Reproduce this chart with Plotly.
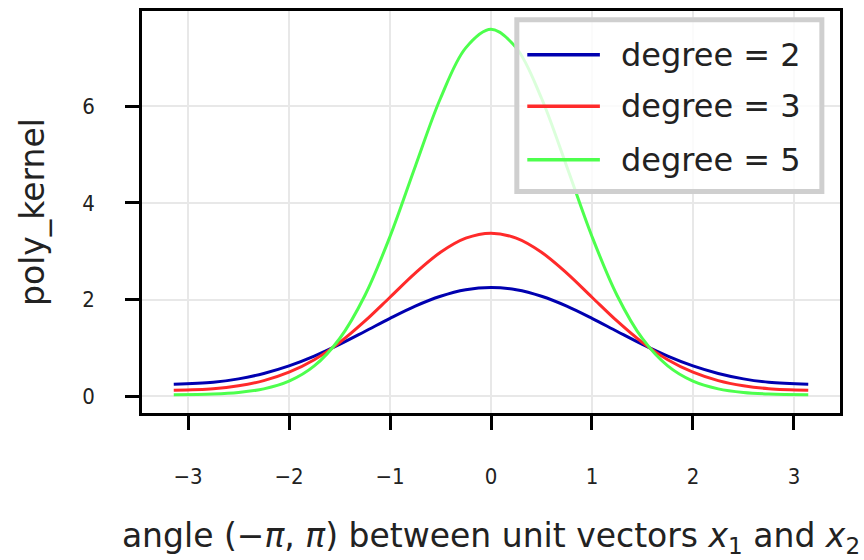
import plotly.graph_objects as go

# angle samples (radians)
angles = [-3.1416, -2.75, -2.5, -2.25, -2.0, -1.75, -1.5, -1.25, -1.0, -0.75, -0.5, -0.25, 0.0,
          0.25, 0.5, 0.75, 1.0, 1.25, 1.5, 1.75, 2.0, 2.25, 2.5, 2.75, 3.1416]

half2 = [0.25, 0.289, 0.359, 0.471, 0.627, 0.830, 1.072, 1.340, 1.613, 1.866, 2.070, 2.204, 2.25]
half3 = [0.125, 0.156, 0.216, 0.323, 0.497, 0.756, 1.110, 1.552, 2.049, 2.548, 2.979, 3.271, 3.375]
half5 = [0.031, 0.045, 0.077, 0.152, 0.311, 0.627, 1.190, 2.080, 3.306, 4.755, 6.166, 7.209, 7.594]

deg2 = half2 + half2[-2::-1]
deg3 = half3 + half3[-2::-1]
deg5 = half5 + half5[-2::-1]

series_names = ["degree = 2", "degree = 3", "degree = 5"]
series_values = [deg2, deg3, deg5]
series_colors = ["#0000b0", "#ff2a2a", "#4dff4d"]

x_ticks = [-3, -2, -1, 0, 1, 2, 3]
y_ticks = [0, 2, 4, 6]

fig = go.Figure()
for name, vals, col in zip(series_names, series_values, series_colors):
    fig.add_trace(go.Scatter(x=angles, y=vals, mode="lines", name=name,
                             line=dict(color=col, width=3, shape="spline", smoothing=1.0),
                             showlegend=False))

# manual legend
fig.add_shape(type="rect", xref="paper", yref="paper", x0=0.537, x1=0.974, y0=0.551, y1=0.978,
              fillcolor="rgba(255,255,255,0.8)", line=dict(color="#cfcfcf", width=5), layer="above")
rows = [0.891, 0.763, 0.630]
for name, col, yy in zip(series_names, series_colors, rows):
    fig.add_shape(type="line", xref="paper", yref="paper", x0=0.552, x1=0.656, y0=yy, y1=yy,
                  line=dict(color=col, width=3.5), layer="above")
    fig.add_annotation(xref="paper", yref="paper", x=0.684, y=yy, text=name, showarrow=False,
                       xanchor="left", yanchor="middle", font=dict(size=32, color="#222222"))

axis_common = dict(showline=True, mirror=True, linecolor="black", linewidth=2.5,
                   ticks="outside", ticklen=14, tickwidth=3, tickcolor="black",
                   showgrid=True, gridcolor="#e8e8e8", gridwidth=2, zeroline=False,
                   tickfont=dict(size=22, color="#222222", family="DejaVu Sans Condensed, DejaVu Sans"))

fig.update_xaxes(range=[-3.456, 3.456], tickvals=x_ticks,
                 ticktext=[("\u2212" + str(-t)) if t < 0 else str(t) for t in x_ticks],
                 ticklabelstandoff=28,
                 title=dict(text="angle (\u2212<i>\u03c0</i>, <i>\u03c0</i>) between unit vectors <i>x</i><sub>1</sub> and <i>x</i><sub>2</sub>",
                            font=dict(size=33, color="#222222"), standoff=36),
                 **axis_common)
fig.update_yaxes(range=[-0.347, 7.972], tickvals=y_ticks, ticklabelstandoff=26,
                 title=dict(text="poly_kernel", font=dict(size=33, color="#222222"), standoff=28),
                 **axis_common)

fig.update_layout(width=864, height=560, margin=dict(l=142, r=24, t=8, b=147),
                  plot_bgcolor="white", paper_bgcolor="white",
                  font=dict(family="DejaVu Sans"))

fig.write_html("out.html")
